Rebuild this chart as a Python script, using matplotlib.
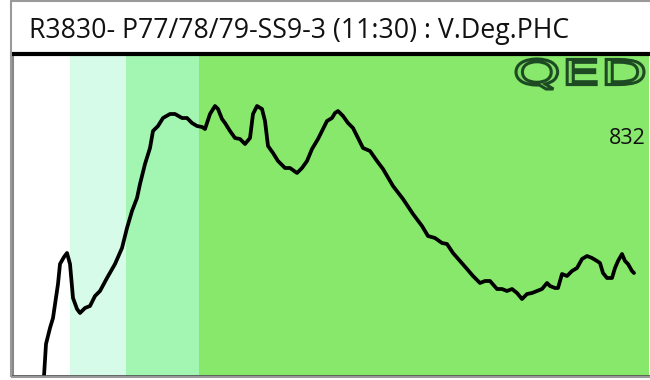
import matplotlib.pyplot as plt
from matplotlib.patches import Rectangle, PathPatch
from matplotlib.textpath import TextPath
from matplotlib.font_manager import FontProperties
from matplotlib.transforms import Affine2D, IdentityTransform

# trace (channel, signal)
channel = [31, 33, 37, 40, 45, 47, 51, 54, 57, 60,
           64, 67, 72, 77, 82, 87, 94, 102, 109, 114,
           119, 124, 127, 132, 137, 140, 145, 150, 157, 162,
           169, 174, 179, 184, 189, 192, 197, 202, 205, 209,
           212, 217, 222, 227, 232, 237, 240, 244, 249, 252,
           255, 260, 265, 272, 277, 284, 289, 294, 299, 305,
           310, 314, 319, 322, 325, 330, 335, 340, 345, 350,
           357, 364, 370, 380, 390, 400, 409, 415, 422, 429,
           434, 440, 447, 454, 460, 467, 472, 477, 484, 489,
           494, 499, 504, 509, 514, 519, 524, 529, 534, 537,
           542, 545, 549, 554, 559, 564, 569, 574, 579, 584,
           587, 590, 594, 599, 602, 605, 609, 612, 615, 619,
           621]
signal = [0, 32, 48, 58, 92, 112, 119, 123, 112, 78,
          67, 63, 68, 70, 80, 85, 98, 112, 128, 148,
          165, 178, 192, 212, 228, 245, 250, 258, 262, 262,
          258, 258, 253, 250, 249, 247, 262, 270, 267, 257,
          253, 245, 238, 237, 232, 238, 262, 270, 267, 255,
          230, 223, 215, 208, 208, 203, 208, 215, 227, 237,
          247, 255, 258, 263, 265, 260, 253, 248, 238, 228,
          225, 215, 207, 190, 177, 162, 150, 140, 138, 133,
          132, 123, 115, 107, 100, 93, 95, 95, 87, 87,
          85, 87, 83, 77, 82, 83, 85, 87, 93, 90,
          88, 88, 102, 100, 105, 108, 117, 120, 118, 115,
          113, 103, 98, 98, 108, 115, 122, 115, 112, 105,
          103]

# coloured regions along the channel axis
band_edges = [0, 57, 113, 186, 640]
band_colors = ['#ffffff', '#d6fbe8', '#a3f6b1', '#88e86b']

title = 'R3830- P77/78/79-SS9-3 (11:30) : V.Deg.PHC'
label_value = '832'

W, H = 650, 380
fig = plt.figure(figsize=(6.5, 3.8), dpi=100)

# outer frame of the panel
fig.patches.append(Rectangle((11 / W, 1 - 377 / H), 660 / W, 376 / H,
                             transform=fig.transFigure, fill=False,
                             edgecolor='#9a9a9a', linewidth=1.5))

fig.text(29 / W, 1 - 31 / H, title, fontsize=19.2, family='Open Sans',
         va='center', ha='left', color='#111111')

ax = fig.add_axes([13 / W, 1 - 376 / H, 636 / W, 322 / H])
for i in range(len(band_colors)):
    ax.axvspan(band_edges[i], band_edges[i + 1], color=band_colors[i], lw=0)

ax.plot(channel, signal, color='black', lw=2.7, solid_joinstyle='round',
        solid_capstyle='round')

ax.set_xlim(0, 636)
ax.set_ylim(0, 322)
ax.set_xticks([])
ax.set_yticks([])
ax.spines['top'].set_linewidth(3)
ax.spines['top'].set_color('black')
ax.spines['bottom'].set_linewidth(2)
ax.spines['bottom'].set_color('#555555')
ax.spines['left'].set_linewidth(1.5)
ax.spines['left'].set_color('#888888')
ax.spines['right'].set_visible(False)

ax.text(633, 238, label_value, fontsize=15.5, family='Open Sans',
        ha='right', va='center', color='#111111')

# QED logo, stretched to the width seen in the picture (pixel coordinates)
tp = TextPath((0, 0), 'QED', size=1, prop=FontProperties(family='DejaVu Sans'))
ext = tp.get_extents()
logo_w, logo_h = 128, 30
px0, py0 = 516, H - 89
tr = Affine2D().translate(-ext.x0, -ext.y0) \
    .scale(logo_w / ext.width, logo_h / ext.height).translate(px0, py0)
logo = PathPatch(tr.transform_path(tp), facecolor='#7fdc66', edgecolor='#1d4a22',
                 linewidth=2.2, transform=IdentityTransform())
fig.patches.append(logo)

fig.savefig('out.png', dpi=100)
